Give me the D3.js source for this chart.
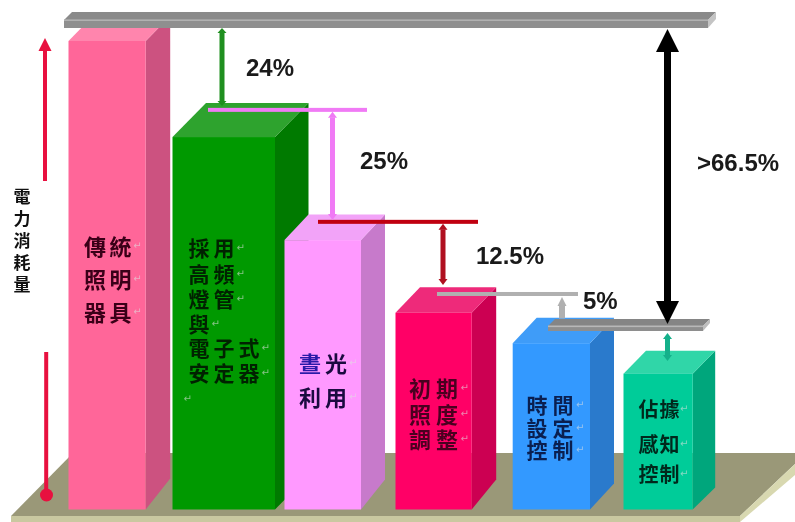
<!DOCTYPE html>
<html><head><meta charset="utf-8">
<script src="https://cdn.jsdelivr.net/npm/d3@7"></script>
<style>html,body{margin:0;padding:0;background:#fff}svg{display:block;filter:blur(.35px)}</style>
</head><body><svg id="c" width="795" height="522"></svg>
<script>
// ---- data ----
const categories = ["傳統照明器具","採用高頻燈管與電子式安定器","晝光利用","初期照度調整","時間設定控制","佔據感知控制"];
const consumption = [100, 79.5, 57.5, 42, 35.5, 29];
const labelLines = [
  ["傳統","照明","器具"],
  ["採用","高頻","燈管","與","電子式","安定器",""],
  ["晝光","利用"],
  ["初期","照度","調整"],
  ["時間","設定","控制"],
  ["佔據","感知","控制"]
];
const savingLabels = ["24%","25%","12.5%","5%"];
const totalLabel = ">66.5%";
const axisTitle = ["電","力","消","耗","量"];
const stepLevels = [85.3, 61.4, 46];   // horizontal step lines
const shelfLevels = [102.8, 38.1];     // upper and lower shelf

// ---- layout / style ----
const W = 795, H = 522;
const y = d3.scaleLinear().domain([0,100]).range([509.5,41]);
const left  = d3.scaleOrdinal(categories,[68.5,172.5,284.5,395.5,512.7,623.5]);
const right = d3.scaleOrdinal(categories,[145.7,275,361,471.7,590,692.7]);
const depthX = d3.scaleOrdinal(categories,[24.5,33.5,24,24.5,24,22.5]);
const depthTop = d3.scaleOrdinal(categories,[25,34,25.5,25.5,25.5,23]);
const depthBot = d3.scaleOrdinal(categories,[31,34,30,30,26,22]);
const front = d3.scaleOrdinal(categories,["#ff6699","#009900","#ff99ff","#ff0066","#3399ff","#00cc99"]);
const side  = d3.scaleOrdinal(categories,["#cc5280","#007a00","#c77acb","#cc0052","#2a7acc","#00a67c"]);
const topF  = d3.scaleOrdinal(categories,["#ff85ad","#2ea32e","#f2a3f8","#ee2a7a","#3f9cf8","#30d6a8"]);
const txt   = d3.scaleOrdinal(categories,["#3a0018","#002200","#1a0a40","#4a0020","#0a1f50","#00281c"]);
const labelX0 = [95,199,310,420,537,648.5];
const labelDX = [25.5,25,26,27,26,21];
const labelY  = [[245,278,311],[247,273,298,323,347,372,398],[362,396],[387,413,438],[404,427,449],[408,443,473]];
const labelFs = [22,21,22,22,21,20];

const svg = d3.select("#c");
const CJK = "'Noto Sans CJK TC','Noto Sans CJK SC',sans-serif";
const pts = a => a.map(p=>p.join(",")).join(" ");
const poly = (a,f) => svg.append("polygon").attr("points",pts(a)).attr("fill",f);

// floor
poly([[11,516],[73,453],[806.6,453],[740,516]],"#9a9878");
poly([[11,516],[740,516],[740,522],[11,522]],"#c9c8a0");
poly([[740,516],[795,464],[795,475],[740,522]],"#d8d8b0");

// bars
const bars = svg.append("g").selectAll("g").data(categories).join("g");
const base = y(0);
bars.append("polygon").attr("fill",d=>side(d)).attr("points",(d,i)=>pts([
  [right(d),y(consumption[i])],[right(d)+depthX(d),y(consumption[i])-depthTop(d)],
  [right(d)+depthX(d),base-depthBot(d)],[right(d),base]]));
bars.append("polygon").attr("fill",d=>topF(d)).attr("points",(d,i)=>pts([
  [left(d),y(consumption[i])],[left(d)+depthX(d),y(consumption[i])-depthTop(d)],
  [right(d)+depthX(d),y(consumption[i])-depthTop(d)],[right(d),y(consumption[i])]]));
bars.append("rect").attr("fill",d=>front(d))
  .attr("x",d=>left(d)).attr("width",d=>right(d)-left(d))
  .attr("y",(d,i)=>y(consumption[i])).attr("height",(d,i)=>base-y(consumption[i]));

// bar labels
categories.forEach((c,i)=>{
  labelLines[i].forEach((line,j)=>{
    const chars = Array.from(line);
    chars.forEach((ch,k)=>{
      svg.append("text").text(ch).attr("x",labelX0[i]+k*labelDX[i]).attr("y",labelY[i][j])
        .attr("text-anchor","middle").attr("dominant-baseline","central")
        .attr("font-family",CJK).attr("font-weight",700).attr("font-size",labelFs[i])
        .attr("fill",(i===2&&j===0&&k===0)?"#2a1aa8":txt(c));
    });
    svg.append("text").text("↵").attr("x",labelX0[i]+chars.length*labelDX[i]-labelDX[i]/2+ (chars.length?0:-3))
      .attr("y",labelY[i][j]).attr("dominant-baseline","central")
      .attr("font-family","DejaVu Sans").attr("font-size",10).attr("fill","#e0e0e0").attr("fill-opacity",.6);
  });
});

// shelves
function shelf(x0,x1,level,h,d,cTop,cFront,cEnd,cLine){
  const b=y(level), t=b-h;
  poly([[x0,t],[x0+d,t-d],[x1+d,t-d],[x1,t]],cTop);
  poly([[x0,t],[x1,t],[x1,b],[x0,b]],cFront);
  poly([[x1,t],[x1+d,t-d],[x1+d,b-d-1],[x1,b]],cEnd);
  svg.append("rect").attr("x",x0).attr("y",t-.5).attr("width",x1-x0).attr("height",1.6).attr("fill",cLine);
}
shelf(64,708,shelfLevels[0],8,8,"#8a8a8a","#8f8f8f","#c4c4c4","#b2b2b2");
shelf(548,703,shelfLevels[1],5,7,"#858585","#8e8e8e","#bdbdbd","#b8b8b8");

// step lines
const stepX = [[208,367],[318,478],[437,578]];
const stepC = ["#f07af5","#c00010","#b0b0b0"];
stepLevels.forEach((v,i)=>svg.append("rect").attr("x",stepX[i][0]).attr("width",stepX[i][1]-stepX[i][0])
  .attr("y",y(v)-2).attr("height",4).attr("fill",stepC[i]));

// arrows
function arrow(x,y0,y1,w,hw,hl,c,single){
  svg.append("rect").attr("x",x-w/2).attr("width",w).attr("y",y0+hl-.5).attr("height",y1-y0-(single?1:2)*hl+1).attr("fill",c);
  poly([[x,y0],[x+hw,y0+hl],[x-hw,y0+hl]],c);
  if(!single) poly([[x,y1],[x+hw,y1-hl],[x-hw,y1-hl]],c);
}
arrow(222,y(shelfLevels[0]),106,5,4.5,5,"#1f8f1f");
arrow(332.5,y(stepLevels[0])+2,220,5,4.5,6,"#f07af5");
arrow(443,y(stepLevels[1])+2,285,5,4.5,6,"#b01020");
arrow(562,y(stepLevels[2])+3,318,6,4.5,9,"#b0b0b0",true);
arrow(667.5,y(shelfLevels[1])+2,361,5,4.5,6,"#14b08a");
arrow(667.5,y(shelfLevels[0])+1,324,7,11.5,23,"#000");

// percent labels
const pctX = [246,360,476,583,697], pctY=[76,169,264,309,171];
savingLabels.concat([totalLabel]).forEach((t,i)=>svg.append("text").text(t)
  .attr("x",pctX[i]).attr("y",pctY[i]).attr("font-family","'Liberation Sans',Arial,sans-serif")
  .attr("font-weight",700).attr("font-size",24).attr("fill","#1a1a1a"));

// consumption axis
const red="#e8103f";
poly([[45,38],[51.5,51],[38.5,51]],red);
svg.append("rect").attr("x",43).attr("y",50).attr("width",4).attr("height",131).attr("fill",red);
svg.append("rect").attr("x",44.2).attr("y",352).attr("width",4).attr("height",140).attr("fill",red);
svg.append("circle").attr("cx",46.5).attr("cy",495).attr("r",6.5).attr("fill",red);
axisTitle.forEach((ch,i)=>svg.append("text").text(ch).attr("x",22).attr("y",195+i*22)
  .attr("text-anchor","middle").attr("dominant-baseline","central")
  .attr("font-family",CJK).attr("font-weight",700).attr("font-size",17).attr("fill","#111"));
</script></body></html>
